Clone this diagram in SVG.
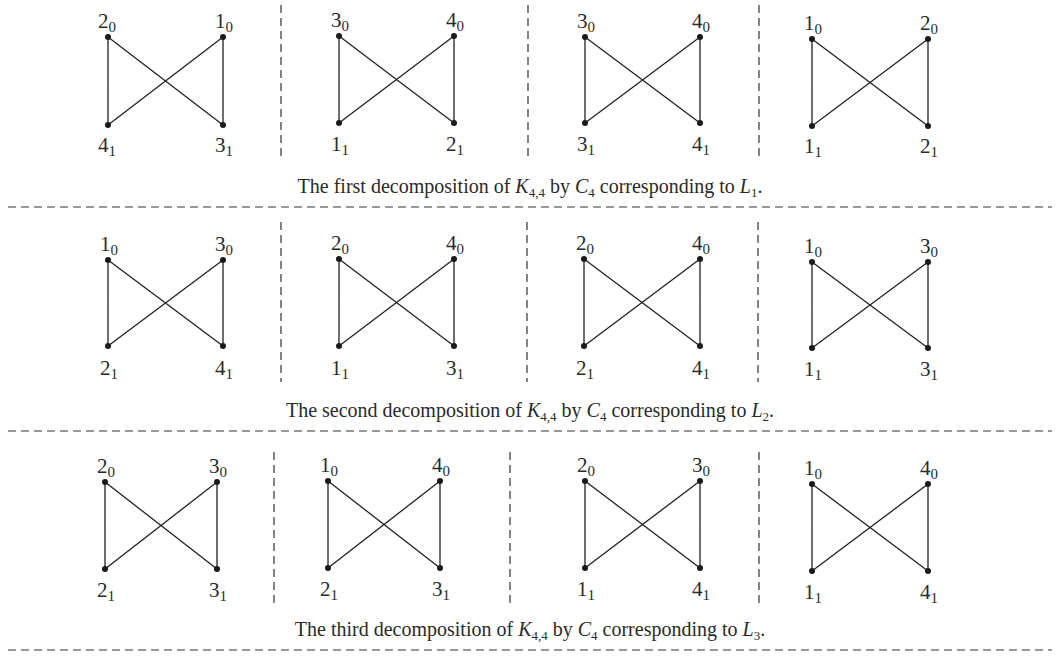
<svg xmlns="http://www.w3.org/2000/svg" width="1058" height="657" viewBox="0 0 1058 657">
<style>
.e{stroke:#222;stroke-width:1.3;fill:none}
.n{fill:#1a1a1a}
.sep{stroke:#333;stroke-width:1.2;stroke-dasharray:8 5;fill:none}
.lb{font-family:"Liberation Serif","Times New Roman",serif;font-size:21px;fill:#2a2a2a;text-anchor:middle}
.lb .s{font-size:15px}
.cap{font-family:"Liberation Serif","Times New Roman",serif;font-size:20px;fill:#2a2a2a;text-anchor:middle}
.s{font-size:13px}
.i{font-style:italic}
</style>
<rect width="1058" height="657" fill="#fff"/>
<g id="separators">
<line class="sep" x1="281" y1="5" x2="281" y2="157"/>
<line class="sep" x1="528" y1="5" x2="528" y2="157"/>
<line class="sep" x1="759" y1="5" x2="759" y2="157"/>
<line class="sep" x1="8" y1="207" x2="1052" y2="207"/>
<line class="sep" x1="281" y1="222" x2="281" y2="382"/>
<line class="sep" x1="527" y1="222" x2="527" y2="382"/>
<line class="sep" x1="758" y1="222" x2="758" y2="382"/>
<line class="sep" x1="8" y1="431" x2="1052" y2="431"/>
<line class="sep" x1="274" y1="452" x2="274" y2="605"/>
<line class="sep" x1="510" y1="452" x2="510" y2="605"/>
<line class="sep" x1="759" y1="452" x2="759" y2="605"/>
<line class="sep" x1="8" y1="650" x2="1052" y2="650"/>
</g>
<g id="connectors">
<path class="e" d="M108 37V125M223 37V125M108 37L223 125M223 37L108 125"/>
<path class="e" d="M339 36V123M454 36V123M339 36L454 123M454 36L339 123"/>
<path class="e" d="M585 37V123M700 37V123M585 37L700 123M700 37L585 123"/>
<path class="e" d="M812 39V126M928 39V126M812 39L928 126M928 39L812 126"/>
<path class="e" d="M108 260V346M223 260V346M108 260L223 346M223 260L108 346"/>
<path class="e" d="M339 259V346M454 259V346M339 259L454 346M454 259L339 346"/>
<path class="e" d="M584 259V346M700 259V346M584 259L700 346M700 259L584 346"/>
<path class="e" d="M812 262V348M928 262V348M812 262L928 348M928 262L812 348"/>
<path class="e" d="M105 482V569M217 482V569M105 482L217 569M217 482L105 569"/>
<path class="e" d="M328 481V568M440 481V568M328 481L440 568M440 481L328 568"/>
<path class="e" d="M585 481V568M700 481V568M585 481L700 568M700 481L585 568"/>
<path class="e" d="M812 484V571M928 484V571M812 484L928 571M928 484L812 571"/>
</g>
<g id="r1g1">
<circle class="n" cx="108" cy="37" r="3"/><circle class="n" cx="223" cy="37" r="3"/><circle class="n" cx="108" cy="125" r="3"/><circle class="n" cx="223" cy="125" r="3"/>
<text class="lb" x="107" y="28">2<tspan class="s" dy="4">0</tspan></text>
<text class="lb" x="224" y="28">1<tspan class="s" dy="4">0</tspan></text>
<text class="lb" x="107" y="152">4<tspan class="s" dy="4">1</tspan></text>
<text class="lb" x="224" y="152">3<tspan class="s" dy="4">1</tspan></text>
</g>
<g id="r1g2">
<circle class="n" cx="339" cy="36" r="3"/><circle class="n" cx="454" cy="36" r="3"/><circle class="n" cx="339" cy="123" r="3"/><circle class="n" cx="454" cy="123" r="3"/>
<text class="lb" x="340" y="27">3<tspan class="s" dy="4">0</tspan></text>
<text class="lb" x="455" y="27">4<tspan class="s" dy="4">0</tspan></text>
<text class="lb" x="340" y="151">1<tspan class="s" dy="4">1</tspan></text>
<text class="lb" x="455" y="151">2<tspan class="s" dy="4">1</tspan></text>
</g>
<g id="r1g3">
<circle class="n" cx="585" cy="37" r="3"/><circle class="n" cx="700" cy="37" r="3"/><circle class="n" cx="585" cy="123" r="3"/><circle class="n" cx="700" cy="123" r="3"/>
<text class="lb" x="586" y="28">3<tspan class="s" dy="4">0</tspan></text>
<text class="lb" x="701" y="28">4<tspan class="s" dy="4">0</tspan></text>
<text class="lb" x="586" y="151">3<tspan class="s" dy="4">1</tspan></text>
<text class="lb" x="701" y="151">4<tspan class="s" dy="4">1</tspan></text>
</g>
<g id="r1g4">
<circle class="n" cx="812" cy="39" r="3"/><circle class="n" cx="928" cy="39" r="3"/><circle class="n" cx="812" cy="126" r="3"/><circle class="n" cx="928" cy="126" r="3"/>
<text class="lb" x="813" y="30">1<tspan class="s" dy="4">0</tspan></text>
<text class="lb" x="929" y="30">2<tspan class="s" dy="4">0</tspan></text>
<text class="lb" x="813" y="153">1<tspan class="s" dy="4">1</tspan></text>
<text class="lb" x="929" y="153">2<tspan class="s" dy="4">1</tspan></text>
</g>
<g id="r2g1">
<circle class="n" cx="108" cy="260" r="3"/><circle class="n" cx="223" cy="260" r="3"/><circle class="n" cx="108" cy="346" r="3"/><circle class="n" cx="223" cy="346" r="3"/>
<text class="lb" x="109" y="251">1<tspan class="s" dy="4">0</tspan></text>
<text class="lb" x="224" y="251">3<tspan class="s" dy="4">0</tspan></text>
<text class="lb" x="109" y="375">2<tspan class="s" dy="4">1</tspan></text>
<text class="lb" x="224" y="375">4<tspan class="s" dy="4">1</tspan></text>
</g>
<g id="r2g2">
<circle class="n" cx="339" cy="259" r="3"/><circle class="n" cx="454" cy="259" r="3"/><circle class="n" cx="339" cy="346" r="3"/><circle class="n" cx="454" cy="346" r="3"/>
<text class="lb" x="340" y="250">2<tspan class="s" dy="4">0</tspan></text>
<text class="lb" x="455" y="250">4<tspan class="s" dy="4">0</tspan></text>
<text class="lb" x="340" y="375">1<tspan class="s" dy="4">1</tspan></text>
<text class="lb" x="455" y="375">3<tspan class="s" dy="4">1</tspan></text>
</g>
<g id="r2g3">
<circle class="n" cx="584" cy="259" r="3"/><circle class="n" cx="700" cy="259" r="3"/><circle class="n" cx="584" cy="346" r="3"/><circle class="n" cx="700" cy="346" r="3"/>
<text class="lb" x="585" y="250">2<tspan class="s" dy="4">0</tspan></text>
<text class="lb" x="701" y="250">4<tspan class="s" dy="4">0</tspan></text>
<text class="lb" x="585" y="375">2<tspan class="s" dy="4">1</tspan></text>
<text class="lb" x="701" y="375">4<tspan class="s" dy="4">1</tspan></text>
</g>
<g id="r2g4">
<circle class="n" cx="812" cy="262" r="3"/><circle class="n" cx="928" cy="262" r="3"/><circle class="n" cx="812" cy="348" r="3"/><circle class="n" cx="928" cy="348" r="3"/>
<text class="lb" x="813" y="253">1<tspan class="s" dy="4">0</tspan></text>
<text class="lb" x="929" y="253">3<tspan class="s" dy="4">0</tspan></text>
<text class="lb" x="813" y="376">1<tspan class="s" dy="4">1</tspan></text>
<text class="lb" x="929" y="376">3<tspan class="s" dy="4">1</tspan></text>
</g>
<g id="r3g1">
<circle class="n" cx="105" cy="482" r="3"/><circle class="n" cx="217" cy="482" r="3"/><circle class="n" cx="105" cy="569" r="3"/><circle class="n" cx="217" cy="569" r="3"/>
<text class="lb" x="106" y="473">2<tspan class="s" dy="4">0</tspan></text>
<text class="lb" x="218" y="473">3<tspan class="s" dy="4">0</tspan></text>
<text class="lb" x="106" y="597">2<tspan class="s" dy="4">1</tspan></text>
<text class="lb" x="218" y="597">3<tspan class="s" dy="4">1</tspan></text>
</g>
<g id="r3g2">
<circle class="n" cx="328" cy="481" r="3"/><circle class="n" cx="440" cy="481" r="3"/><circle class="n" cx="328" cy="568" r="3"/><circle class="n" cx="440" cy="568" r="3"/>
<text class="lb" x="329" y="472">1<tspan class="s" dy="4">0</tspan></text>
<text class="lb" x="441" y="472">4<tspan class="s" dy="4">0</tspan></text>
<text class="lb" x="329" y="596">2<tspan class="s" dy="4">1</tspan></text>
<text class="lb" x="441" y="596">3<tspan class="s" dy="4">1</tspan></text>
</g>
<g id="r3g3">
<circle class="n" cx="585" cy="481" r="3"/><circle class="n" cx="700" cy="481" r="3"/><circle class="n" cx="585" cy="568" r="3"/><circle class="n" cx="700" cy="568" r="3"/>
<text class="lb" x="586" y="472">2<tspan class="s" dy="4">0</tspan></text>
<text class="lb" x="701" y="472">3<tspan class="s" dy="4">0</tspan></text>
<text class="lb" x="586" y="596">1<tspan class="s" dy="4">1</tspan></text>
<text class="lb" x="701" y="596">4<tspan class="s" dy="4">1</tspan></text>
</g>
<g id="r3g4">
<circle class="n" cx="812" cy="484" r="3"/><circle class="n" cx="928" cy="484" r="3"/><circle class="n" cx="812" cy="571" r="3"/><circle class="n" cx="928" cy="571" r="3"/>
<text class="lb" x="813" y="475">1<tspan class="s" dy="4">0</tspan></text>
<text class="lb" x="929" y="475">4<tspan class="s" dy="4">0</tspan></text>
<text class="lb" x="813" y="599">1<tspan class="s" dy="4">1</tspan></text>
<text class="lb" x="929" y="599">4<tspan class="s" dy="4">1</tspan></text>
</g>
<g id="captions">
<text class="cap" x="530" y="193">The first decomposition of <tspan class="i">K</tspan><tspan class="s" dy="4">4,4</tspan><tspan dy="-4"> by </tspan><tspan class="i">C</tspan><tspan class="s" dy="4">4</tspan><tspan dy="-4"> corresponding to </tspan><tspan class="i">L</tspan><tspan class="s" dy="4">1</tspan><tspan dy="-4">.</tspan></text>
<text class="cap" x="530" y="417">The second decomposition of <tspan class="i">K</tspan><tspan class="s" dy="4">4,4</tspan><tspan dy="-4"> by </tspan><tspan class="i">C</tspan><tspan class="s" dy="4">4</tspan><tspan dy="-4"> corresponding to </tspan><tspan class="i">L</tspan><tspan class="s" dy="4">2</tspan><tspan dy="-4">.</tspan></text>
<text class="cap" x="530" y="636">The third decomposition of <tspan class="i">K</tspan><tspan class="s" dy="4">4,4</tspan><tspan dy="-4"> by </tspan><tspan class="i">C</tspan><tspan class="s" dy="4">4</tspan><tspan dy="-4"> corresponding to </tspan><tspan class="i">L</tspan><tspan class="s" dy="4">3</tspan><tspan dy="-4">.</tspan></text>
</g>
</svg>
